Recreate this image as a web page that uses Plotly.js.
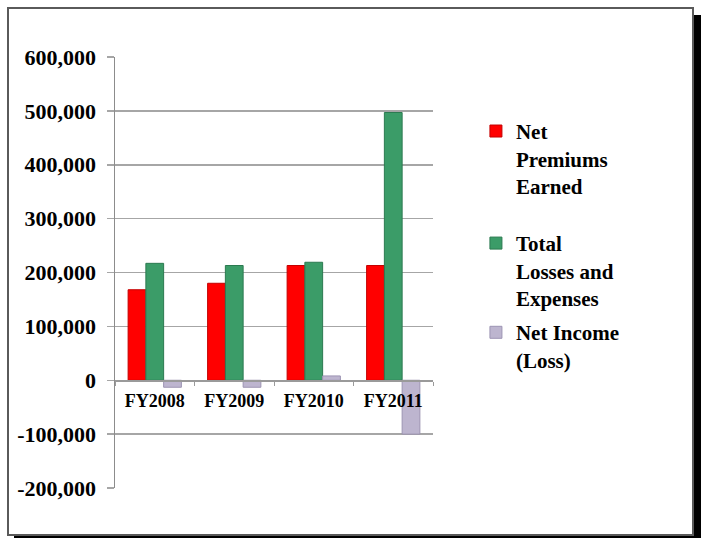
<!DOCTYPE html>
<html>
<head>
<meta charset="utf-8">
<script src="https://cdn.plot.ly/plotly-3.0.1.min.js"></script>
<style>
  html, body { margin: 0; padding: 0; background: #ffffff; }
  #wrap { position: relative; width: 701px; height: 538px; overflow: hidden; }
  #chart { position: absolute; left: 0; top: 0; width: 701px; height: 538px; }
  /* slide-style frame with a hard drop shadow */
  #frame {
    position: absolute; left: 7px; top: 7px;
    width: 683px; height: 525px;
    border: 2px solid #5a5a5a;
    box-shadow: 7px 8px 0 0 #000000;
    pointer-events: none;
  }
</style>
</head>
<body>
<div id="wrap">
  <div id="chart"></div>
  <div id="frame"></div>
</div>
<script>
// Fiscal years on the category axis
const years = ['FY2008', 'FY2009', 'FY2010', 'FY2011'];

// Series values (dollars, thousands)
const netPremiumsEarned = [168000, 180000, 213000, 213000];
const totalLossesExpenses = [217000, 213000, 219000, 497000];
const netIncomeLoss = [-13000, -13000, 8000, -100000];

// Value-axis ticks
const yTickVals = [-200000, -100000, 0, 100000, 200000, 300000, 400000, 500000, 600000];
const yTickText = ['-200,000', '-100,000', '0', '100,000', '200,000', '300,000', '400,000', '500,000', '600,000'];

// Legend labels
const seriesNames = ['Net<br>Premiums<br>Earned', 'Total<br>Losses and<br>Expenses', 'Net Income<br>(Loss)'];

const serif = 'Liberation Serif';

// wrap each line of a label in bold tags
function bold(s) {
  return s.split('<br>').map(function (p) { return '<b>' + p + '</b>'; }).join('<br>');
}

function barTrace(vals, name, fill, edge, legendId) {
  return {
    type: 'bar',
    x: years,
    y: vals,
    name: bold(name),
    legend: legendId,
    marker: { color: fill, line: { color: edge, width: 1 } },
    hoverinfo: 'skip'
  };
}

const data = [
  barTrace(netPremiumsEarned, seriesNames[0], '#ff0000', '#c40000', 'legend'),
  barTrace(totalLossesExpenses, seriesNames[1], '#3b9c68', '#2b7a50', 'legend2'),
  barTrace(netIncomeLoss, seriesNames[2], '#bdb5cf', '#9d94b3', 'legend3')
];

function legendAt(y) {
  return {
    x: 1.135, xanchor: 'left',
    y: y, yanchor: 'top',
    valign: 'top',
    bgcolor: 'rgba(0,0,0,0)',
    borderwidth: 0,
    font: { family: serif, size: 21, color: '#000000' }
  };
}

const layout = {
  width: 701,
  height: 538,
  margin: { l: 115, r: 268, t: 57, b: 50 },
  paper_bgcolor: '#ffffff',
  plot_bgcolor: '#ffffff',
  barmode: 'group',
  bargap: 0.33,
  bargroupgap: 0,
  showlegend: true,
  legend: legendAt(0.875),
  legend2: legendAt(0.615),
  legend3: legendAt(0.408),
  xaxis: {
    type: 'category',
    anchor: 'free',
    position: 0.25,
    tickvals: years,
    ticktext: years.map(bold),
    showline: true,
    linecolor: '#9a9a9a',
    linewidth: 1.5,
    ticks: 'outside',
    tickson: 'boundaries',
    ticklen: 4,
    tickcolor: '#9a9a9a',
    tickwidth: 1,
    ticklabelstandoff: 4,
    showgrid: false,
    tickfont: { family: serif, size: 18, color: '#000000' },
    fixedrange: true
  },
  yaxis: {
    range: [-200000, 600000],
    tickvals: yTickVals,
    ticktext: yTickText.map(bold),
    showgrid: true,
    gridcolor: '#a6a6a6',
    gridwidth: 1.5,
    zeroline: false,
    showline: true,
    linecolor: '#8c8c8c',
    linewidth: 1.5,
    ticks: 'outside',
    ticklen: 7,
    tickcolor: '#a6a6a6',
    tickwidth: 1.5,
    ticklabelstandoff: 6,
    tickfont: { family: serif, size: 22, color: '#000000' },
    fixedrange: true
  }
};

Plotly.newPlot('chart', data, layout, { displayModeBar: false, staticPlot: true });
</script>
</body>
</html>
